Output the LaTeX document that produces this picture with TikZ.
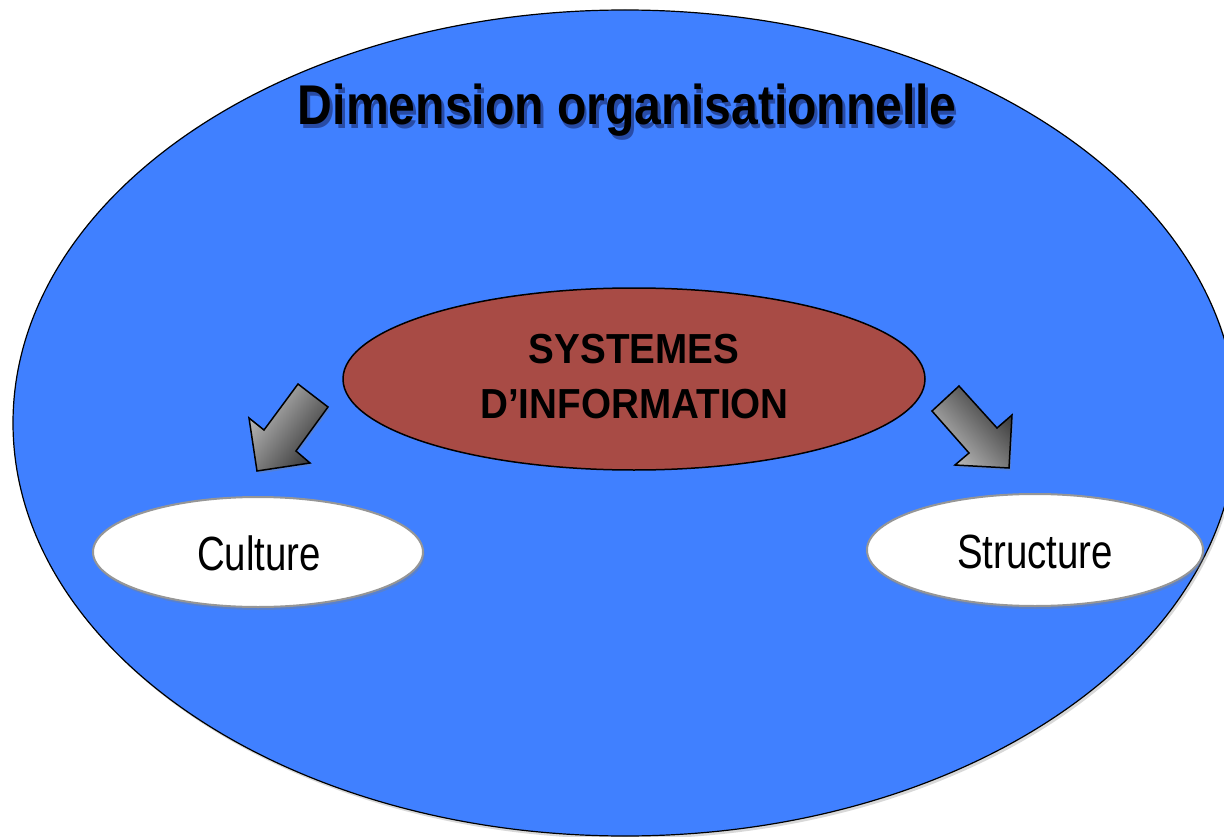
\documentclass[tikz,border=0pt]{standalone}
\usepackage{fontspec}
\setmainfont{Liberation Sans}
\usetikzlibrary{shapes.geometric,shadows}
\definecolor{bgblue}{RGB}{64,128,255}
\definecolor{sired}{RGB}{168,75,69}
\definecolor{leafedge}{RGB}{150,150,150}
\definecolor{tshadow}{RGB}{40,75,165}
\newcommand{\softshadowtext}[1]{%
  \rlap{\hspace{3pt}\raisebox{-4pt}{\color{tshadow}#1}}#1}
\tikzset{
  outer/.style={ellipse, draw=black, line width=1.2pt, fill=bgblue, inner sep=0pt,
    minimum width=1224pt, minimum height=826pt,
    drop shadow={opacity=0.3, shadow xshift=2pt, shadow yshift=-3pt}},
  core/.style={ellipse, draw=black, line width=1.5pt, fill=sired, inner sep=0pt,
    minimum width=582pt, minimum height=182pt},
  leaf/.style={ellipse, draw=leafedge, line width=2pt, fill=white, inner sep=0pt,
    drop shadow={opacity=0.35, shadow xshift=1.5pt, shadow yshift=-3pt}},
  blockarrow/.style={draw=black, line width=1.5pt, line join=miter,
    bottom color=black!25, top color=black!80},
  titletext/.style={inner sep=0pt, anchor=base, font=\fontsize{56}{60}\selectfont\bfseries},
  sitext/.style={inner sep=0pt, anchor=base, font=\fontsize{42}{46}\selectfont\bfseries},
  leaftext/.style={inner sep=0pt, anchor=base, font=\fontsize{48}{52}\selectfont},
}
\begin{document}
\begin{tikzpicture}[x=1pt,y=-1pt]
\useasboundingbox (0,0) rectangle (1224,837);
\fill[white] (0,0) rectangle (1224,837);
\clip (0,0) rectangle (1224,837);

\node[outer] (dim) at (625,423) {};

% title with soft shadow
\node[titletext] (title) at (627,125)
  {\scalebox{0.86}[1]{\softshadowtext{Dimension organisationnelle}}};

% central ellipse
\node[core] (si) at (634,379) {};
\node[sitext] (si1) at (634,363) {\scalebox{0.92}[1]{SYSTEMES}};
\node[sitext] (si2) at (634.5,418) {\scalebox{0.92}[1]{D’INFORMATION}};

% leaves
\node[leaf, minimum width=330pt, minimum height=110pt] (cul) at (258,552) {};
\node[leaftext] (cult) at (259,570) {\scalebox{0.8}[1]{Culture}};
\node[leaf, minimum width=336pt, minimum height=112pt] (str) at (1035,550) {};
\node[leaftext] (strt) at (1035,568) {\scalebox{0.8}[1]{Structure}};

% block arrows
\coordinate (la1) at (298,384);
\coordinate (la2) at (328,407);
\coordinate (la3) at (296,451);
\coordinate (la4) at (310,463);
\coordinate (la5) at (257,471);
\coordinate (la6) at (249,418);
\coordinate (la7) at (264,430);
\path[blockarrow, shading angle=-127,
  drop shadow={opacity=0.3, shadow xshift=1.5pt, shadow yshift=-2.5pt}]
  (la1) -- (la2) -- (la3) -- (la4) -- (la5) -- (la6) -- (la7) -- cycle;

\coordinate (ra1) at (959,386);
\coordinate (ra2) at (932,411);
\coordinate (ra3) at (969,453);
\coordinate (ra4) at (955,465);
\coordinate (ra5) at (1009,468);
\coordinate (ra6) at (1012,415);
\coordinate (ra7) at (997,428);
\path[blockarrow, shading angle=-48,
  drop shadow={opacity=0.3, shadow xshift=1.5pt, shadow yshift=-2.5pt}]
  (ra1) -- (ra2) -- (ra3) -- (ra4) -- (ra5) -- (ra6) -- (ra7) -- cycle;
\end{tikzpicture}
\end{document}
